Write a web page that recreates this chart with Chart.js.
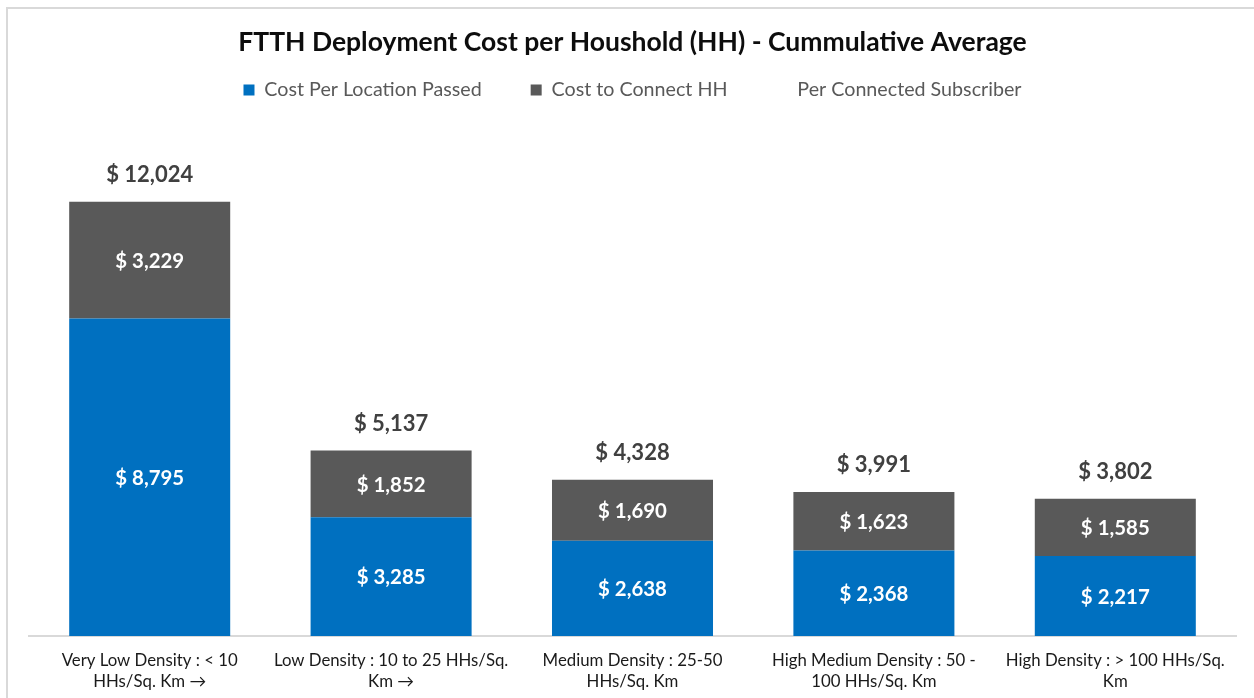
<!DOCTYPE html>
<html><head><meta charset="utf-8">
<script src="https://cdn.jsdelivr.net/npm/chart.js@4.4.0/dist/chart.umd.min.js"></script>
<style>html,body{margin:0;padding:0;background:#fff;overflow:hidden}canvas{display:block}</style>
</head><body>
<canvas id="c" width="1254" height="698"></canvas>
<script>
const categories = [
  ["Very Low Density : < 10", "HHs/Sq. Km \u2192"],
  ["Low Density : 10 to 25 HHs/Sq.", "Km \u2192"],
  ["Medium Density : 25-50", "HHs/Sq. Km"],
  ["High Medium Density : 50 -", "100 HHs/Sq. Km"],
  ["High Density : > 100 HHs/Sq.", "Km"]
];
const costPerLocationPassed = [8795, 3285, 2638, 2368, 2217];
const costToConnectHH = [3229, 1852, 1690, 1623, 1585];
const perConnectedSubscriber = [12024, 5137, 4328, 3991, 3802];
const seriesNames = ["Cost Per Location Passed", "Cost to Connect HH", "Per Connected Subscriber"];
const chartTitle = "FTTH Deployment Cost per Houshold (HH) - Cummulative Average";
const yMax = 14570;

const FONT = 'Lato, "Open Sans", sans-serif';
const fmt = v => '$ ' + v.toLocaleString('en-US');

const framePlugin = {
  id: 'frame',
  beforeDraw(chart) {
    const ctx = chart.ctx;
    ctx.save();
    ctx.fillStyle = '#fff';
    ctx.fillRect(0, 0, chart.width, chart.height);
    ctx.strokeStyle = '#D9D9D9';
    ctx.lineWidth = 2;
    ctx.beginPath();
    ctx.moveTo(7, chart.height);
    ctx.lineTo(7, 8);
    ctx.lineTo(chart.width, 8);
    ctx.stroke();
    ctx.restore();
  }
};

const labelPlugin = {
  id: 'valueLabels',
  afterDatasetsDraw(chart) {
    const ctx = chart.ctx;
    ctx.save();
    ctx.textAlign = 'center';
    ctx.textBaseline = 'middle';
    chart.data.datasets.forEach((ds, di) => {
      const meta = chart.getDatasetMeta(di);
      meta.data.forEach((el, i) => {
        const v = ds.data[i];
        if (di < 2) {
          ctx.fillStyle = '#ffffff';
          ctx.font = 'bold 20.4px ' + FONT;
          ctx.fillText(fmt(v), el.x, (el.y + el.base) / 2 + 1);
        } else {
          ctx.fillStyle = '#404040';
          ctx.font = 'bold 22px ' + FONT;
          ctx.fillText(fmt(v), el.x, el.y - 27);
        }
      });
    });
    ctx.restore();
  }
};

new Chart(document.getElementById('c'), {
  type: 'bar',
  data: {
    labels: categories,
    datasets: [
      { label: seriesNames[0], data: costPerLocationPassed, backgroundColor: '#0070C0', borderWidth: 0, stack: 'cost', categoryPercentage: 1, barPercentage: 0.667 },
      { label: seriesNames[1], data: costToConnectHH, backgroundColor: '#595959', borderWidth: 0, stack: 'cost', categoryPercentage: 1, barPercentage: 0.667 },
      { type: 'line', label: seriesNames[2], data: perConnectedSubscriber, stack: 'total', showLine: false, pointRadius: 0, pointHoverRadius: 0, backgroundColor: 'rgba(0,0,0,0)', borderColor: 'rgba(0,0,0,0)', borderWidth: 0 }
    ]
  },
  options: {
    responsive: false,
    animation: false,
    layout: { padding: { left: 29, right: 18, top: 0, bottom: -8 } },
    plugins: {
      title: {
        display: true, text: chartTitle, color: '#0d0d0d',
        font: { family: FONT, size: 26.5, weight: 'bold', lineHeight: 1.2 },
        padding: { top: 26.1, bottom: -26.75 }
      },
      legend: {
        display: true, position: 'top', align: 'center',
        labels: {
          boxWidth: 11, boxHeight: 11, padding: 49, color: '#595959',
          font: { family: FONT, size: 19.7 },
          sort: (a, b) => a.datasetIndex - b.datasetIndex
        }
      },
      tooltip: { enabled: false }
    },
    scales: {
      x: {
        stacked: true,
        grid: { display: false, drawTicks: false },
        border: { display: true, color: '#D9D9D9', width: 2 },
        ticks: { color: '#1a1a1a', padding: 14, maxRotation: 0, autoSkip: false, font: { family: FONT, size: 16.8, lineHeight: 1.25 } }
      },
      y: { stacked: true, display: false, min: 0, max: yMax }
    }
  },
  plugins: [framePlugin, labelPlugin]
});
</script>
</body></html>
